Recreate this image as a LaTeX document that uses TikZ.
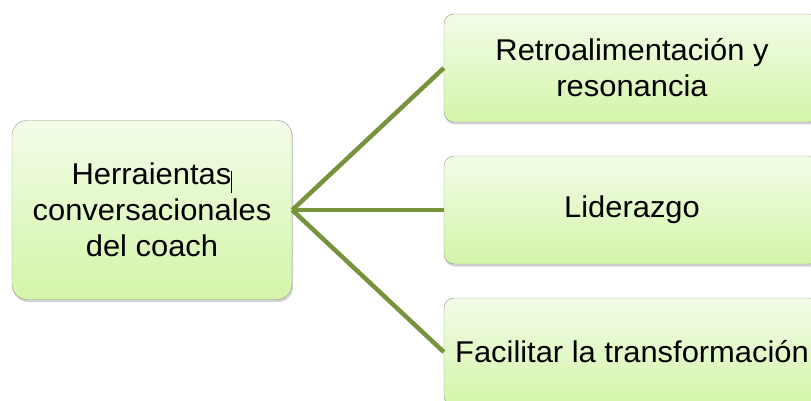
\documentclass[tikz,border=0pt]{standalone}
\usepackage{fontspec}
\setmainfont[FakeStretch=1.03]{Liberation Sans}
\usetikzlibrary{shadows}
\definecolor{olivo}{RGB}{119,147,60}
\definecolor{verdearriba}{RGB}{243,252,232}
\definecolor{verdeabajo}{RGB}{211,245,168}
\tikzset{
  caja/.style = {align=center, inner sep=0pt, text centered,
    font=\fontsize{30}{36}\selectfont, draw=gray!85, thin,
    top color=verdearriba, bottom color=verdeabajo,
    drop shadow={shadow xshift=1pt, shadow yshift=-2.5pt, opacity=0.35, fill=gray}},
  raiz/.style = {caja, rounded corners=15pt,
    minimum width=280pt, minimum height=179pt},% caja de la izquierda
  rama/.style = {caja, rounded corners=10pt,
    minimum width=376pt, minimum height=108pt},% cajas de la derecha
  enlace/.style = {olivo, line width=4.5pt}
}
\begin{document}
\begin{tikzpicture}[x=1pt,y=1pt]
		\useasboundingbox (0,0) rectangle (811,-401);
		\node [raiz] (herr) at (152,-210)
		    {Herraientas\rule[-0.27em]{1pt}{0.72em}\\conversacionales\\del coach};
		\node [rama] (retro) at (632,-68) {Retroalimentación y\\resonancia};
		\node [rama] (lider) at (632,-210) {Liderazgo};
		\node [rama] (facil) at (632,-352) {Facilitar la transformación};
		\foreach \destino in {retro,lider,facil}
		    \draw [enlace] (herr.east) -- (\destino.west);
		\end{tikzpicture}
\end{document}
